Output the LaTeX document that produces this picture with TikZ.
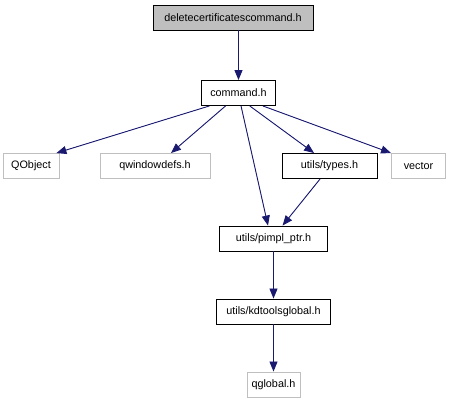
\documentclass[tikz,border=0pt]{standalone}
\usepackage{fontspec}
\setmainfont{Liberation Sans}
\usetikzlibrary{arrows.meta}
\definecolor{edgec}{HTML}{191970}
\definecolor{rootbg}{HTML}{BFBFBF}
\definecolor{extc}{HTML}{BFBFBF}
\tikzset{
  hfile/.style={draw=black,line width=0.9pt,fill=white,inner sep=0pt,
    minimum height=25pt,font=\fontsize{10.8}{13}\selectfont,anchor=center},
  hroot/.style={hfile,fill=rootbg},
  hext/.style={hfile,draw=extc},
  incl/.style={-{Triangle[length=10pt,width=8pt]},line width=0.9pt,draw=edgec,fill=edgec},
}
\begin{document}
\begin{tikzpicture}[x=1pt,y=-1pt]
  \useasboundingbox (0,0) rectangle (466,411);
  \node[hroot,minimum width=160pt] (root)    at (233,17.5)  {deletecertificatescommand.h};
  \node[hfile,minimum width=74pt]  (cmd)     at (238.5,93)  {command.h};
  \node[hext,minimum width=56pt]   (qobj)    at (31,166)    {QObject};
  \node[hext,minimum width=110pt]  (qwin)    at (155,166)   {qwindowdefs.h};
  \node[hfile,minimum width=95pt]  (types)   at (329.5,166) {utils/types.h};
  \node[hext,minimum width=54pt]   (vec)     at (418.5,166) {vector};
  \node[hfile,minimum width=108pt] (pimpl)   at (273.5,238.5) {utils/pimpl\_ptr.h};
  \node[hfile,minimum width=114pt] (kdtools) at (273.5,311.5) {utils/kdtoolsglobal.h};
  \node[hext,minimum width=53pt]   (qglob)   at (273.5,384.5) {qglobal.h};
  % include edges
  \draw[incl] (root.south -| cmd) -- (cmd);
  \draw[incl] (cmd.204) -- (qobj.27);
  \draw[incl] (cmd.225) -- (qwin.39);
  \draw[incl] (cmd.281) -- (pimpl.113);
  \draw[incl] (cmd.311) -- (types.140);
  \draw[incl] (cmd.332) -- (vec.north west);
  \draw[incl] (types.234) -- (pimpl.55);
  \draw[incl] (pimpl) -- (kdtools);
  \draw[incl] (kdtools) -- (qglob);
\end{tikzpicture}
\end{document}
